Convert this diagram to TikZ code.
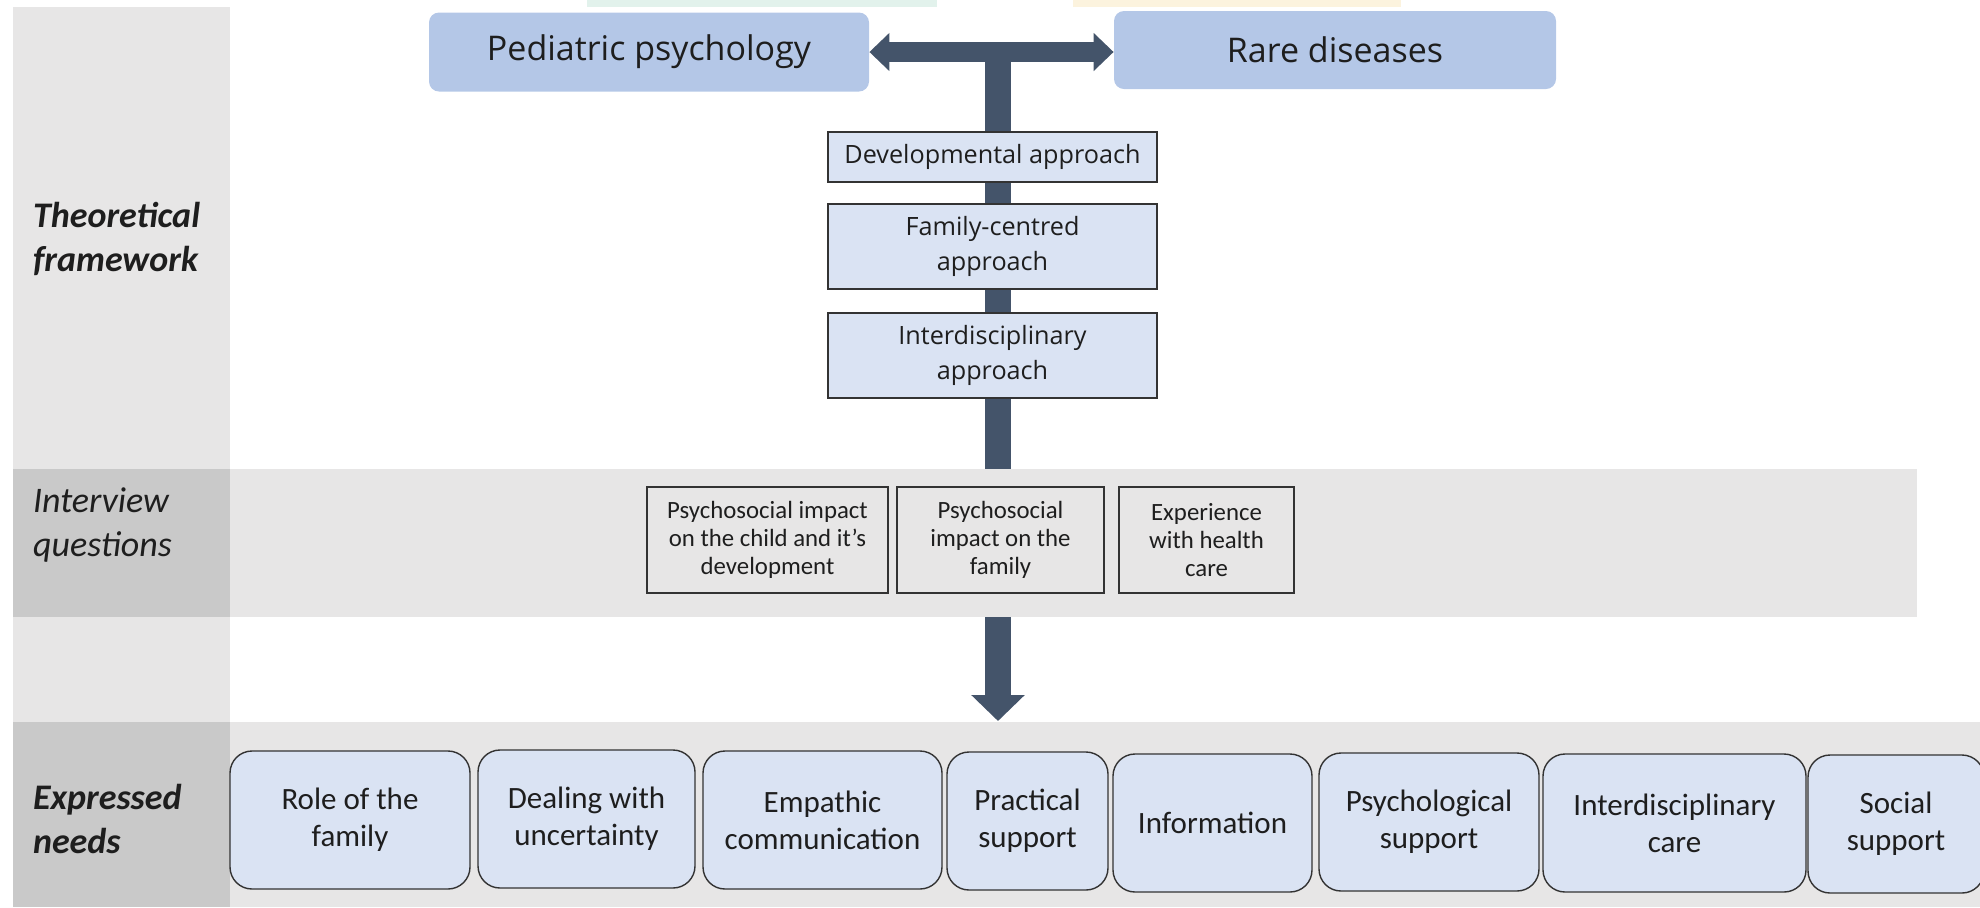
\documentclass[tikz,border=0pt]{standalone}
\usepackage{fontspec}
\setmainfont{Carlito}
\newfontfamily\opensans{Open Sans}
\usetikzlibrary{arrows.meta}
\definecolor{bandgray}{HTML}{E7E6E6}
\definecolor{labelgray}{HTML}{C9C9C9}
\definecolor{topblue}{HTML}{B4C7E7}
\definecolor{boxblue}{HTML}{DAE3F3}
\definecolor{slate}{HTML}{44546A}
\definecolor{boxline}{HTML}{333333}
\definecolor{txt}{HTML}{1E1E1E}
\definecolor{fadegreen}{HTML}{E2F2EC}
\definecolor{fadeyellow}{HTML}{FCF3DE}

\begin{document}
\begin{tikzpicture}[x=0.5pt,y=-0.5pt,
  topbox/.style={fill=topblue,rounded corners=5pt,text=txt,font=\opensans\fontsize{17}{20}\selectfont},
  theorybox/.style={fill=boxblue,draw=boxline,line width=0.7pt,text=txt,align=center,minimum width=164.5pt,font=\opensans\fontsize{12.6}{17.5}\selectfont},
  askbox/.style={fill=bandgray,draw=boxline,line width=0.6pt,text=txt,align=center,minimum height=53pt,font=\fontsize{12.4}{14}\selectfont},
  needbox/.style={fill=boxblue,draw=boxline,line width=0.7pt,rounded corners=11pt,text=txt,align=center,minimum height=69pt,font=\fontsize{15.5}{18.5}\selectfont},
  lane/.style={anchor=west,align=left,text=txt,font=\fontsize{18}{22}\selectfont},
  flow/.style={slate,line width=13pt,-{Triangle[width=26pt,length=13pt]}},
  link/.style={slate,line width=10pt,{Triangle[width=18.5pt,length=10pt]}-{Triangle[width=18.5pt,length=10pt]}}
]
\useasboundingbox (0,0) rectangle (1980,907);
\fill[fadegreen] (587,0) rectangle (937,7);
\fill[fadeyellow] (1073,0) rectangle (1401,7);
\fill[bandgray] (13,7) rectangle (230,469);
\fill[bandgray] (13,617) rectangle (230,722);
\fill[bandgray] (13,722) rectangle (1980,907);
\fill[labelgray] (13,722) rectangle (230,907);

\coordinate (junc) at (998,52);
\coordinate (tip) at (998,721);
\draw[flow] (junc) -- (tip);

\fill[bandgray] (13,469) rectangle (1917,617);
\fill[labelgray] (13,469) rectangle (230,617);

\node[topbox,minimum width=220pt,minimum height=39.5pt] (ped) at (649,52) {Pediatric psychology};
\node[topbox,minimum width=221pt,minimum height=39pt] (rare) at (1335,50) {Rare diseases};
\draw[link] (ped.east) -- (ped.east -| rare.west);

\node[theorybox,minimum height=25pt] (devel) at (992.5,157) {Developmental approach};
\node[theorybox,minimum height=42.5pt] (family) at (992.5,246.5) {Family-centred\\approach};
\node[theorybox,minimum height=42.5pt] (interd) at (992.5,355.5) {Interdisciplinary\\approach};

\node[askbox,minimum width=120.5pt] (qchild) at (767.5,540) {Psychosocial impact\\on the child and it’s\\development};
\node[askbox,minimum width=103.5pt] (qfamily) at (1000.5,540) {Psychosocial\\impact on the\\family};
\node[askbox,minimum width=87.5pt] (qcare) at (1206.5,540) {Experience\\with health\\care};

\node[needbox,minimum width=120pt] (role) at (350,820) {Role of the\\family};
\node[needbox,minimum width=108.5pt] (uncert) at (586.5,819) {Dealing with\\uncertainty};
\node[needbox,minimum width=119.5pt] (empath) at (822.5,820) {Empathic\\communication};
\node[needbox,minimum width=80.5pt] (pract) at (1027.5,821) {Practical\\support};
\node[needbox,minimum width=99.5pt] (inform) at (1212.5,823) {Information};
\node[needbox,minimum width=110pt] (psych) at (1429,822) {Psychological\\support};
\node[needbox,minimum width=131.5pt] (care) at (1674.5,823) {Interdisciplinary\\care};
\node[needbox,minimum width=88pt] (social) at (1896,824) {Social\\support};

\node[lane,font=\fontsize{18}{22}\selectfont\bfseries\itshape] (theory) at (26,239) {Theoretical\\framework};
\node[lane,font=\fontsize{18}{22}\selectfont\itshape] (inter) at (26,525) {Interview\\questions};
\node[lane,font=\fontsize{18}{22}\selectfont\bfseries\itshape] (needs) at (26,819) {Expressed\\needs};
\end{tikzpicture}
\end{document}
